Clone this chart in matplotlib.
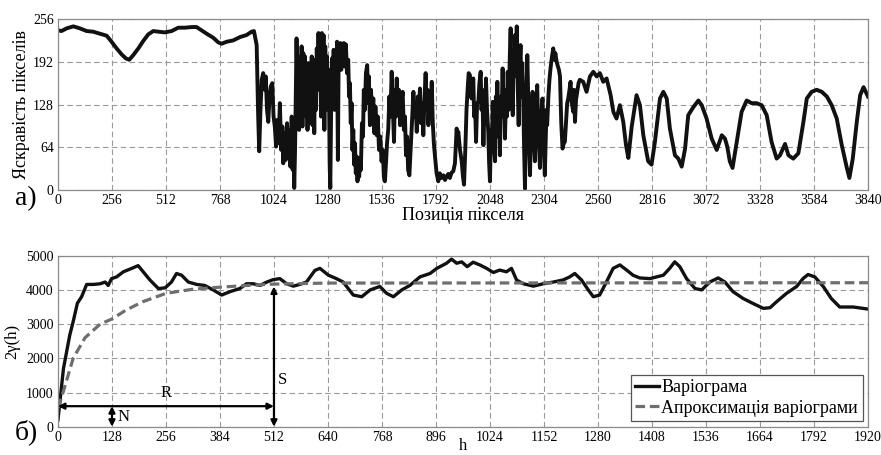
import matplotlib
matplotlib.use("Agg")
import matplotlib.pyplot as plt

plt.rcParams['font.family'] = 'serif'
plt.rcParams['font.serif'] = ['Liberation Serif', 'DejaVu Serif']

# ---- data: (a) pixel brightness along the row ----
pos_top = [0, 17, 41, 73, 104, 136, 167, 199, 231, 254, 278, 302, 322, 338, 357, 381, 404, 428, 452,
           476, 507, 539, 570, 602, 634, 657, 681, 705, 736, 760, 776, 800, 831, 863, 894, 918, 929,
           942, 949, 954, 960, 966, 973, 980, 985, 991, 997, 1003, 1009, 1016, 1022,
           1028, 1034, 1040, 1046, 1052, 1058, 1064, 1068, 1074, 1080, 1086, 1092, 1098, 1102, 1108,
           1113, 1117, 1120, 1124, 1128, 1131, 1135, 1139, 1143, 1147, 1151, 1155, 1159, 1163, 1167,
           1171, 1175, 1179, 1183, 1187, 1191, 1195, 1199, 1203, 1207, 1211, 1215, 1219, 1223, 1227,
           1231, 1235, 1239, 1243, 1247, 1251, 1255, 1259, 1263, 1267, 1271, 1275, 1279, 1284, 1288,
           1291, 1295, 1299, 1303, 1307, 1311, 1315, 1319, 1323, 1327, 1331, 1335, 1339, 1343, 1347,
           1351, 1355, 1359, 1365, 1370, 1376, 1380, 1384, 1388, 1392, 1396, 1400, 1404, 1408, 1412,
           1416, 1420, 1424, 1428, 1432, 1436, 1441, 1446, 1450, 1455, 1460, 1466, 1470, 1474, 1479,
           1484, 1490, 1495, 1500, 1505, 1511, 1516, 1522, 1528, 1534, 1540, 1545, 1550, 1555, 1560,
           1566, 1571, 1576, 1582, 1587, 1593, 1598, 1602, 1606, 1611, 1616, 1622, 1628, 1634, 1640,
           1645, 1650, 1655, 1660, 1666, 1672, 1678, 1685, 1690, 1695, 1701, 1706, 1711, 1716, 1721,
           1727, 1732, 1738, 1743, 1748, 1752, 1756, 1762, 1767, 1772, 1777, 1782, 1788, 1795, 1803,
           1810, 1818, 1827, 1835, 1842, 1850, 1858, 1866, 1874, 1882, 1890, 1894, 1898, 1906, 1914,
           1920, 1925, 1931, 1937, 1942, 1947, 1953, 1957, 1961, 1965, 1969, 1973, 1978, 1982, 1987,
           1993, 1998, 2004, 2008, 2012, 2017, 2022, 2026, 2029, 2034, 2040, 2044, 2048, 2053, 2057,
           2061, 2066, 2072, 2076, 2080, 2083, 2088, 2092, 2095, 2100, 2104, 2108, 2112, 2116, 2119,
           2124, 2128, 2132, 2137, 2142, 2146, 2150, 2153, 2156, 2160, 2164, 2167, 2171, 2175, 2180,
           2184, 2188, 2193, 2197, 2201, 2206, 2210, 2214, 2218, 2222, 2225, 2230, 2234, 2238, 2242,
           2246, 2250, 2254, 2258, 2261, 2265, 2268, 2272, 2276, 2280, 2285, 2289, 2293, 2297, 2301,
           2305, 2308, 2312, 2316, 2319, 2325, 2330, 2335, 2342, 2348, 2354, 2358, 2364, 2370, 2375,
           2380, 2386, 2392, 2398, 2403, 2410, 2414, 2419, 2425, 2430, 2436, 2443, 2447, 2451, 2456,
           2462, 2468, 2474, 2490, 2506, 2522, 2538, 2554, 2569,
           2585, 2601, 2620, 2633, 2648, 2664, 2680, 2693, 2704, 2720, 2743, 2759, 2775, 2798, 2814,
           2830, 2854, 2870, 2886, 2901, 2925, 2941, 2957, 2973, 2988, 3012, 3036, 3052, 3075, 3099,
           3123, 3147, 3162, 3173, 3185, 3198, 3218, 3241, 3265, 3289, 3312, 3336, 3360, 3383, 3407,
           3423, 3447, 3463, 3486, 3510, 3534, 3550, 3573, 3597, 3621, 3645, 3668, 3692, 3716, 3740,
           3752, 3768, 3787, 3803, 3819, 3840]
bright_top = [239, 238, 242, 245, 242, 238, 237, 234, 231, 222, 212, 203, 197, 195, 202, 212, 223, 233, 238,
              237, 236, 238, 243, 243, 244, 244, 239, 234, 228, 221, 219, 222, 224, 229, 232, 237, 238,
              217, 112, 58, 120, 165, 175, 150, 170, 120, 102, 140, 155, 160, 110,
              95, 65, 105, 70, 130, 60, 95, 40, 85, 45, 100, 55, 90, 35, 110,
              30, 80, 3, 60, 160, 227, 150, 200, 90, 170, 110, 215, 95, 205, 130,
              200, 110, 175, 90, 190, 100, 170, 110, 200, 97, 180, 85, 195, 120, 212,
              150, 235, 165, 225, 110, 235, 170, 232, 90, 215, 120, 200, 150, 180, 40,
              3, 120, 197, 140, 210, 120, 200, 150, 222, 45, 210, 190, 220, 180, 212,
              190, 220, 185, 218, 175, 195, 140, 160, 100, 130, 60, 90, 38, 70, 25,
              50, 13, 45, 20, 48, 30, 100, 80, 150, 120, 175, 187, 130, 170, 97,
              150, 110, 137, 85, 125, 82, 110, 60, 80, 43, 60, 20, 13, 40, 70,
              92, 140, 110, 177, 130, 72, 150, 110, 167, 120, 150, 97, 130, 147, 90,
              110, 52, 80, 30, 22, 60, 100, 147, 110, 130, 87, 140, 110, 152, 100,
              130, 82, 140, 175, 120, 150, 97, 140, 120, 162, 100, 70, 48, 25, 13,
              25, 18, 22, 15, 20, 24, 18, 26, 28, 40, 92, 80, 87, 60, 43,
              20, 8, 60, 122, 150, 175, 172, 140, 137, 160, 167, 110, 120, 72, 130,
              132, 160, 177, 120, 150, 67, 130, 100, 167, 120, 87, 40, 13, 90, 60,
              132, 70, 43, 140, 100, 162, 80, 130, 52, 140, 120, 182, 110, 150, 77,
              140, 110, 177, 120, 200, 242, 160, 190, 112, 200, 170, 232, 180, 245, 150,
              97, 180, 217, 140, 190, 132, 60, 2, 100, 160, 202, 130, 60, 22, 100,
              120, 147, 90, 60, 43, 100, 130, 157, 100, 70, 33, 90, 120, 137, 80,
              50, 22, 70, 120, 97, 140, 165, 182, 200, 212, 195, 205, 192, 185, 180,
              170, 100, 62, 70, 72, 110, 130, 137, 150, 162, 130, 117, 150, 102, 135,
              147, 160, 165, 162, 147, 170, 177, 170, 175,
              162, 167, 142, 117, 107, 127, 102, 67, 48, 95, 142, 127, 82, 43, 38,
              72, 137, 147, 137, 92, 52, 47, 35, 62, 112, 124, 134, 127, 107, 77,
              60, 82, 77, 65, 43, 33, 72, 117, 134, 130, 130, 127, 112, 72, 47,
              52, 69, 52, 47, 55, 102, 137, 147, 150, 147, 140, 127, 107, 67, 33,
              18, 47, 102, 142, 154, 140]

top_xticks = [0, 256, 512, 768, 1024, 1280, 1536, 1792, 2048, 2304, 2560, 2816, 3072, 3328, 3584, 3840]
top_yticks = [0, 64, 128, 192, 256]

# ---- data: (b) variogram and its approximation ----
lag = [0, 13, 28, 36, 46, 56, 68, 84, 100, 112, 119, 127, 139, 155, 175, 190, 202, 218, 238, 254,
       269, 281, 293, 309, 329, 348, 368, 388, 408, 431, 447, 463, 479, 495, 510, 526, 542, 558,
       573, 589, 609, 621, 641, 660, 676, 700, 720, 740, 763, 779, 795, 815, 834, 858, 882, 898,
       921, 933, 945, 957, 970, 984, 1000, 1016, 1032, 1047, 1063, 1075, 1087, 1103, 1127, 1150,
       1174, 1197, 1213, 1225, 1241, 1257, 1269, 1284, 1300, 1316, 1332, 1348, 1363, 1379, 1403,
       1419, 1435, 1450, 1462, 1474, 1490, 1510, 1526, 1545, 1565, 1581, 1600, 1624, 1648, 1672,
       1688, 1703, 1727, 1751, 1766, 1778, 1794, 1814, 1833, 1853, 1885, 1920]
variogram = [200, 1700, 2680, 3070, 3610, 3800, 4160, 4160, 4180, 4230, 4130, 4330, 4380, 4530, 4630,
             4710, 4530, 4290, 4040, 4060, 4230, 4480, 4430, 4230, 4160, 4130, 4000, 3850, 3950,
             4040, 4180, 4180, 4130, 4230, 4300, 4330, 4180, 4110, 4160, 4230, 4570, 4630, 4430,
             4330, 4230, 3850, 3800, 4000, 4100, 3900, 3800, 4000, 4130, 4380, 4480, 4630, 4780,
             4900, 4780, 4820, 4680, 4810, 4730, 4630, 4510, 4580, 4530, 4630, 4290, 4180, 4110,
             4180, 4230, 4290, 4380, 4480, 4290, 4000, 3800, 3850, 4230, 4630, 4730, 4580, 4430,
             4350, 4330, 4380, 4430, 4630, 4820, 4680, 4330, 4040, 4000, 4230, 4350, 4230, 3950,
             3750, 3600, 3460, 3480, 3650, 3900, 4100, 4330, 4450, 4380, 4100, 3750, 3500, 3500,
             3440]
approx_lag = [0, 12, 36, 64, 100, 128, 160, 200, 256, 320, 384, 448, 512, 640, 1920]
approx_val = [550, 1000, 2000, 2600, 3000, 3150, 3400, 3650, 3900, 4020, 4080, 4130, 4170, 4200, 4210]

bot_xticks = [0, 128, 256, 384, 512, 640, 768, 896, 1024, 1152, 1280, 1408, 1536, 1664, 1792, 1920]
bot_yticks = [0, 1000, 2000, 3000, 4000, 5000]

range_R = 512
nugget_lag = 128
nugget_N = 600
sill_S = 4100

fig = plt.figure(figsize=(8.81, 4.55), dpi=100)
ax1 = fig.add_axes([0.0658, 0.5824, 0.9194, 0.3758])
ax2 = fig.add_axes([0.0658, 0.0622, 0.9194, 0.3758])

grid_kw = dict(color='#9a9a9a', linestyle=(0, (5, 3)), linewidth=0.8)

for ax in (ax1, ax2):
    for s in ax.spines.values():
        s.set_color('#8a8a8a')
        s.set_linewidth(0.9)
    ax.tick_params(length=0, labelsize=10, pad=3)
    ax.grid(True, **grid_kw)
    ax.set_axisbelow(True)

# (a)
ax1.plot(pos_top, bright_top, color='#111111', linewidth=2.8)
ax1.set_xlim(0, 3840)
ax1.set_ylim(0, 256)
ax1.set_xticks(top_xticks)
ax1.set_yticks(top_yticks)
ax1.set_xlabel('Позиція пікселя', fontsize=13, labelpad=0)
ax1.set_ylabel('Яскравість пікселів', fontsize=13, labelpad=2)
fig.text(0.017, 0.563, 'а)', fontsize=20, ha='left', va='center')

# (b)
ax2.plot(lag, variogram, color='#111111', linewidth=2.4, label='Варіограма')
ax2.plot(approx_lag, approx_val, color='#6e6e6e', linewidth=2.3, linestyle=(0, (3, 1.5)),
         label='Апроксимація варіограми')
ax2.set_xlim(0, 1920)
ax2.set_ylim(0, 5000)
ax2.set_xticks(bot_xticks)
ax2.set_yticks(bot_yticks)
ax2.set_xlabel('h', fontsize=12, labelpad=-4)
ax2.set_ylabel('2γ(h)', fontsize=12, labelpad=4)
fig.text(0.017, 0.05, 'б)', fontsize=20, ha='left', va='center')

arrow_kw = dict(arrowstyle='<|-|>', color='black', lw=1.6, mutation_scale=9, shrinkA=0, shrinkB=0)
ax2.annotate('', xy=(0, nugget_N), xytext=(range_R, nugget_N), arrowprops=arrow_kw)
ax2.annotate('', xy=(range_R, 0), xytext=(range_R, sill_S), arrowprops=arrow_kw)
ax2.annotate('', xy=(nugget_lag, 0), xytext=(nugget_lag, nugget_N), arrowprops=arrow_kw)
ax2.text(256, 1000, 'R', fontsize=12, ha='center', va='center')
ax2.text(532, 1380, 'S', fontsize=12, ha='center', va='center')
ax2.text(155, 280, 'N', fontsize=12, ha='center', va='center')

leg = ax2.legend(loc='lower right', fontsize=13, frameon=True, fancybox=False, handlelength=1.3,
                 handletextpad=0.15, borderpad=0.25, labelspacing=0.2, borderaxespad=0.3)
leg.get_frame().set_edgecolor('#555555')
leg.get_frame().set_linewidth(0.9)
leg.get_frame().set_alpha(1)

fig.savefig('out.png', dpi=100)
